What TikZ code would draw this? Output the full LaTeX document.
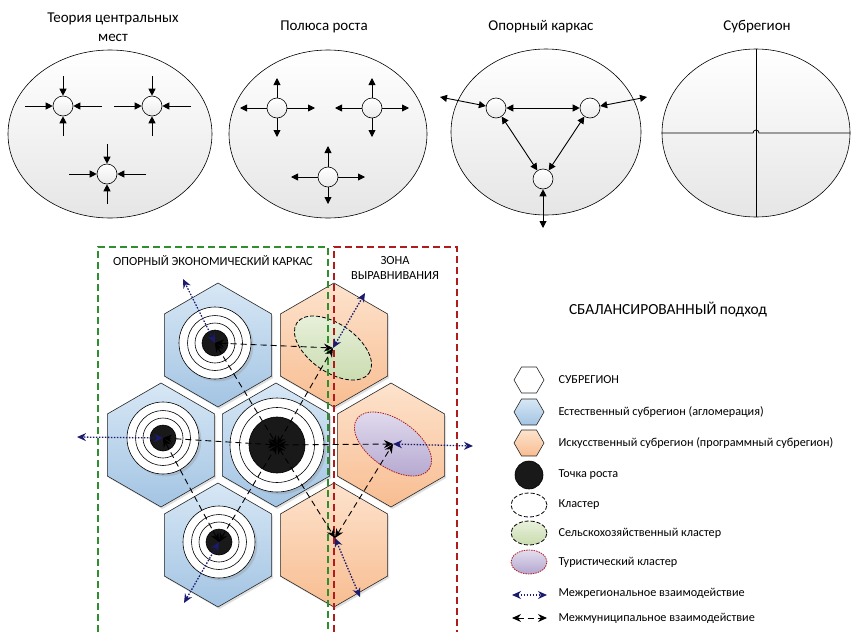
\documentclass[tikz,border=0pt]{standalone}
\usepackage{fontspec}
\setmainfont{Carlito}
\usetikzlibrary{shapes.geometric,arrows.meta,shadows}

\definecolor{bluetop}{HTML}{D7E7F5}
\definecolor{bluebot}{HTML}{A3C4E3}
\definecolor{orgtop}{HTML}{FDE3CD}
\definecolor{orgbot}{HTML}{F8BD91}
\definecolor{agrtop}{HTML}{E9F1DC}
\definecolor{agrbot}{HTML}{C9DBAE}
\definecolor{turtop}{HTML}{E3DDEF}
\definecolor{turbot}{HTML}{B3A6CF}
\definecolor{navyline}{HTML}{1A1A6E}
\definecolor{framegreen}{HTML}{2F8F2F}
\definecolor{framered}{HTML}{B01C1C}

\tikzset{
  oval/.style={ellipse,draw,line width=0.6pt,top color=white,bottom color=black!10,minimum height=168pt,inner sep=0pt},
  dot/.style={circle,draw,line width=0.6pt,top color=white,bottom color=black!8,minimum size=20pt,inner sep=0pt},
  tipto/.style={-{Triangle[length=7pt,width=7pt]},line width=0.9pt},
  tipboth/.style={{Triangle[length=7pt,width=7pt]}-{Triangle[length=7pt,width=7pt]},line width=0.9pt},
  title/.style={font=\fontsize{15}{19}\selectfont,align=center},
  hexcell/.style={regular polygon,regular polygon sides=6,shape border rotate=30,minimum size=124pt,inner sep=0pt,draw=black!85,line width=0.6pt,
    drop shadow={shadow xshift=1.5pt,shadow yshift=-2pt,opacity=0.25}},
  hexblue/.style={hexcell,top color=bluetop,bottom color=bluebot},
  hexorange/.style={hexcell,top color=orgtop,bottom color=orgbot},
  leghex/.style={regular polygon,regular polygon sides=6,minimum size=30pt,inner sep=0pt,draw=black!85,line width=0.6pt},
  ring/.style={circle,draw,line width=0.6pt,fill=white,inner sep=0pt},
  core/.style={circle,draw,line width=0.6pt,fill=black!90,inner sep=0pt},
  clus/.style={ellipse,draw,line width=0.8pt,dash pattern=on 4pt off 2pt,inner sep=0pt},
  agro/.style={clus,top color=agrtop,bottom color=agrbot},
  tour/.style={ellipse,draw=framered,line width=0.8pt,dash pattern=on 1.5pt off 1pt,inner sep=0pt,top color=turtop,bottom color=turbot},
  munic/.style={line width=0.9pt,dash pattern=on 6pt off 4pt,{Stealth[length=9pt,width=8pt]}-{Stealth[length=9pt,width=8pt]}},
  inter/.style={navyline,line width=1.3pt,dash pattern=on 1.5pt off 1.5pt,{Stealth[length=9pt,width=8pt]}-{Stealth[length=9pt,width=8pt]}},
  zone/.style={line width=1.2pt,dash pattern=on 7pt off 4pt},
  lbl/.style={font=\fontsize{12.4}{15}\selectfont,align=center},
  legtext/.style={anchor=west,font=\fontsize{12.2}{14}\selectfont},
}

\begin{document}
\begin{tikzpicture}[x=1pt,y=-1pt]
\useasboundingbox (0,0) rectangle (851,632);

% four models
\node (t1) at (113,27) [title] {Теория центральных\\мест};
\node (t2) at (324,27) [title] {Полюса роста};
\node (t3) at (541,27) [title] {Опорный каркас};
\node (t4) at (757,27) [title] {Субрегион};

\node (e1) at (110,134) [oval,minimum width=204pt] {};
\node (c11) at (63,106) [dot] {};
\node (c12) at (152,106) [dot] {};
\node (c13) at (107,174) [dot] {};
\coordinate (c11w) at (25,106); \coordinate (c11e) at (102,106); \coordinate (c11n) at (63,76); \coordinate (c11s) at (63,136);
\coordinate (c12w) at (114,106); \coordinate (c12e) at (191,106); \coordinate (c12n) at (152,76); \coordinate (c12s) at (152,136);
\coordinate (c13w) at (69,174); \coordinate (c13e) at (146,174); \coordinate (c13n) at (107,144); \coordinate (c13s) at (107,204);
\path[tipto] (c11w) edge (c11) (c11e) edge (c11) (c11n) edge (c11) (c11s) edge (c11)
  (c12w) edge (c12) (c12e) edge (c12) (c12n) edge (c12) (c12s) edge (c12)
  (c13w) edge (c13) (c13e) edge (c13) (c13n) edge (c13) (c13s) edge (c13);

\node (e2) at (328,134) [oval,minimum width=198pt] {};
\node (c21) at (277,108) [dot] {};
\node (c22) at (372,108) [dot] {};
\node (c23) at (328,177) [dot] {};
\coordinate (c21w) at (240,108); \coordinate (c21e) at (315,108); \coordinate (c21n) at (277,78); \coordinate (c21s) at (277,137);
\coordinate (c22w) at (335,108); \coordinate (c22e) at (409,108); \coordinate (c22n) at (372,78); \coordinate (c22s) at (372,137);
\coordinate (c23w) at (291,177); \coordinate (c23e) at (365,177); \coordinate (c23n) at (328,146); \coordinate (c23s) at (328,204);
\path[tipto] (c21) edge (c21w) (c21) edge (c21e) (c21) edge (c21n) (c21) edge (c21s)
  (c22) edge (c22w) (c22) edge (c22e) (c22) edge (c22n) (c22) edge (c22s)
  (c23) edge (c23w) (c23) edge (c23e) (c23) edge (c23n) (c23) edge (c23s);

\node (e3) at (546,132) [oval,minimum width=190pt,minimum height=166pt] {};
\node (c31) at (496,108) [dot] {};
\node (c32) at (590,108) [dot] {};
\node (c33) at (543,179) [dot] {};
\coordinate (c31o) at (440,97); \coordinate (c32o) at (647,97); \coordinate (c33o) at (543,228);
\path[tipboth] (c31) edge (c32) (c31) edge (c33) (c32) edge (c33)
  (c31) edge (c31o) (c32) edge (c32o) (c33) edge (c33o);

\node (e4) at (756,133) [oval,minimum width=188pt] {};
\draw[line width=0.8pt] (e4.north) -- (e4.south);
\draw[line width=0.8pt] (e4.west) -- ([xshift=-3pt]e4.center) arc[start angle=180,end angle=0,radius=3pt] -- (e4.east);

% subregions
\node (h1) at (218,345) [hexblue] {};
\node (h2) at (334,345) [hexorange] {};
\node (h3) at (161,445) [hexblue] {};
\node (h4) at (276,445) [hexblue] {};
\node (h5) at (391,445) [hexorange] {};
\node (h6) at (218,545) [hexblue] {};
\node (h7) at (334,545) [hexorange] {};

\node (g) at (333,348) [agro,rotate=-35,minimum width=88pt,minimum height=48pt] {};
\node (p) at (393,444) [tour,rotate=-35,minimum width=88pt,minimum height=48pt] {};

% growth points
\node (r1a) at (215,343) [ring,minimum size=72pt,drop shadow={opacity=0.25}] {};
\node (r1b) at (215,343) [ring,minimum size=55pt] {};
\node (r1c) at (215,343) [ring,minimum size=40pt] {};
\node (r1) at (215,343) [core,minimum size=26pt] {};
\node (r3a) at (163,438) [ring,minimum size=72pt,drop shadow={opacity=0.25}] {};
\node (r3b) at (163,438) [ring,minimum size=55pt] {};
\node (r3c) at (163,438) [ring,minimum size=40pt] {};
\node (r3) at (163,438) [core,minimum size=26pt] {};
\node (r6a) at (219,542) [ring,minimum size=72pt,drop shadow={opacity=0.25}] {};
\node (r6b) at (219,542) [ring,minimum size=55pt] {};
\node (r6c) at (219,542) [ring,minimum size=40pt] {};
\node (r6) at (219,542) [core,minimum size=26pt] {};
\node (r4a) at (277,445) [ring,minimum size=94pt,drop shadow={opacity=0.25}] {};
\node (r4b) at (277,445) [ring,minimum size=75pt] {};
\node (r4) at (277,445) [core,minimum size=56pt] {};

% zones
\draw[zone,framegreen] (98,632) |- (328,247) -- (328,632);
\draw[zone,framered] (334,632) |- (457,247) -- (457,632);
\node (kark) at (213,261) [lbl] {ОПОРНЫЙ ЭКОНОМИЧЕСКИЙ КАРКАС};
\node (zona) at (395,268) [lbl] {ЗОНА\\ВЫРАВНИВАНИЯ};
\node (bal) at (668,310) [font=\fontsize{15.4}{17}\selectfont] {СБАЛАНСИРОВАННЫЙ подход};

% links
\coordinate (j) at (335,538);
\path[munic] (r1.center) edge (g.center) (r1.center) edge (r4.center) (r4.center) edge (g.center)
  (r4.center) edge (r3.center) (r6.center) edge (r3.center) (r6.center) edge (r4.center)
  (r4.center) edge (p.center) (r4.center) edge (j) (j) edge (p.center);

\coordinate (n1) at (183,279); \coordinate (n2) at (365,293); \coordinate (n3) at (77,437);
\coordinate (n4) at (473,446); \coordinate (n5) at (360,597); \coordinate (n6) at (184,603);
\path[inter] (r1.center) edge (n1) (g.center) edge (n2) (r3.center) edge (n3)
  (p.center) edge (n4) (j) edge (n5) (r6.center) edge (n6);

% legend
\node (l1) at (529,380) [leghex,fill=white] {};
\node (l2) at (529,412) [leghex,top color=bluetop,bottom color=bluebot] {};
\node (l3) at (529,443) [leghex,top color=orgtop,bottom color=orgbot] {};
\node (l4) at (529,475) [core,minimum size=28pt] {};
\node (l5) at (529,505) [clus,fill=white,minimum width=36pt,minimum height=24pt] {};
\node (l6) at (529,533) [agro,minimum width=36pt,minimum height=24pt] {};
\node (l7) at (529,562) [tour,minimum width=36pt,minimum height=24pt] {};
\coordinate (la1) at (512,595); \coordinate (la2) at (547,595);
\coordinate (lb1) at (512,618); \coordinate (lb2) at (547,618);
\draw[inter] (la1) -- (la2);
\draw[munic] (lb1) -- (lb2);

\node (lt1) at (555,380) [legtext] {СУБРЕГИОН};
\node (lt2) at (555,412) [legtext] {Естественный субрегион (агломерация)};
\node (lt3) at (555,443) [legtext] {Искусственный субрегион (программный субрегион)};
\node (lt4) at (555,475) [legtext] {Точка роста};
\node (lt5) at (555,505) [legtext] {Кластер};
\node (lt6) at (555,533) [legtext] {Сельскохозяйственный кластер};
\node (lt7) at (555,562) [legtext] {Туристический кластер};
\node (lt8) at (555,593) [legtext] {Межрегиональное взаимодействие};
\node (lt9) at (555,618) [legtext] {Межмуниципальное взаимодействие};
\end{tikzpicture}
\end{document}
